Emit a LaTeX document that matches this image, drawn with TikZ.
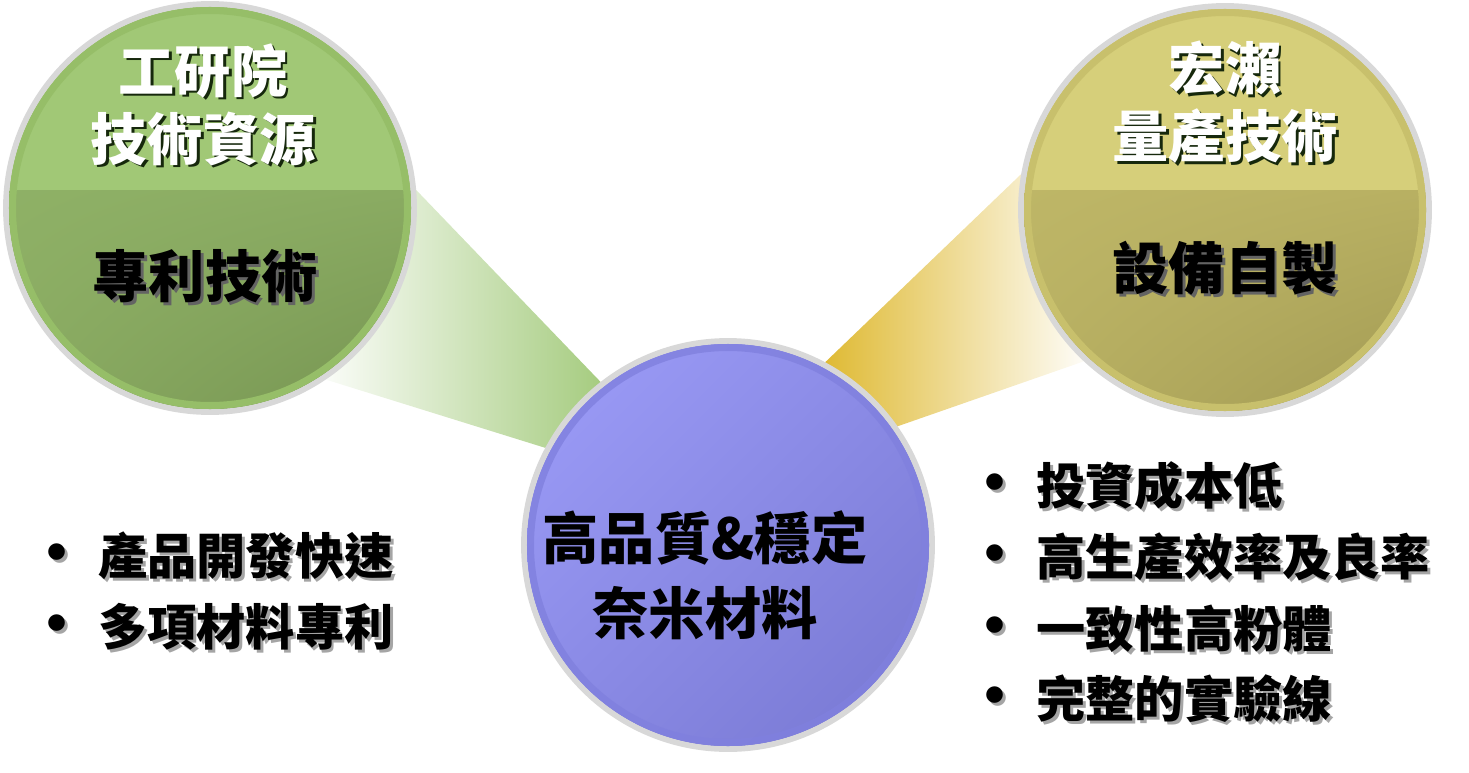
\documentclass[tikz,border=0pt]{standalone}
\usepackage{fontspec}
\newfontfamily\cjk{Noto Sans CJK TC}
\usetikzlibrary{backgrounds, shadings}
\usepackage{xcolor}
\definecolor{ringgray}{RGB}{216,216,216}
\definecolor{greentop}{RGB}{161,200,118}
\definecolor{greenlow}{RGB}{138,171,98}
\definecolor{greendark}{RGB}{116,146,80}
\definecolor{greenrim}{RGB}{150,190,104}
\definecolor{yellowtop}{RGB}{214,207,122}
\definecolor{yellowlow}{RGB}{184,176,98}
\definecolor{yellowdark}{RGB}{160,152,82}
\definecolor{yellowrim}{RGB}{200,192,108}
\definecolor{bluetop}{RGB}{158,158,250}
\definecolor{bluelow}{RGB}{118,118,208}
\definecolor{bluerim}{RGB}{128,128,222}
\definecolor{beamgreen}{RGB}{166,204,128}
\definecolor{beamgold}{RGB}{223,186,52}
\definecolor{shadowdark}{RGB}{22,40,12}
\definecolor{shadowgray}{RGB}{165,165,165}
\newcommand{\shtext}[2]{\makebox[0pt][l]{\hspace{1.6pt}\raisebox{-1.6pt}{\textcolor{#1}{#2}}}#2}
\tikzset{
  orb/.style={circle, minimum size=8.16cm, inner sep=0pt, draw=ringgray, line width=3.4pt},
  orbtitle/.style={font=\cjk\bfseries\fontsize{32}{38.7}\selectfont, align=center, text=white, inner sep=0pt},
  orbsub/.style={font=\cjk\bfseries\fontsize{32}{38.7}\selectfont, align=center, text=black, inner sep=0pt},
  bulletitem/.style={font=\cjk\bfseries\fontsize{28}{34}\selectfont, anchor=west, inner sep=0pt},
}

\begin{document}
\begin{tikzpicture}[x=0.02cm, y=0.02cm]
\useasboundingbox (0,0) rectangle (1469,772);

% ── Three orbs ────────────────────────────────────────────────────────────────
\node[orb, fill=greenlow]  (itri)   at (210,564)  {};
\node[orb, fill=yellowlow] (hongse) at (1225,562) {};
\node[orb, fill=bluelow]   (nano)   at (728,227)  {};

% green orb: light cap, shaded lower half, rim
\begin{scope}
  \clip (itri.center) circle[radius=201];
  \shade[upper left=greenlow!80!greentop, upper right=greenlow, lower left=greenlow,
         lower right=greendark] (0,350) rectangle (420,582);
  \fill[greentop] (0,582) rectangle (420,780);
\end{scope}
\draw[greenrim, line width=4pt] (itri.center) circle[radius=197.5];

% yellow orb
\begin{scope}
  \clip (hongse.center) circle[radius=201];
  \shade[upper left=yellowlow!80!yellowtop, upper right=yellowlow, lower left=yellowlow,
         lower right=yellowdark] (1015,350) rectangle (1435,582);
  \fill[yellowtop] (1015,582) rectangle (1435,780);
\end{scope}
\draw[yellowrim, line width=4pt] (hongse.center) circle[radius=197.5];

% blue orb
\begin{scope}
  \clip (nano.center) circle[radius=201];
  \shade[upper left=bluetop, upper right=bluetop!50!bluelow, lower left=bluetop!50!bluelow,
         lower right=bluelow] (520,20) rectangle (935,435);
\end{scope}
\draw[bluerim, line width=4pt, opacity=.8] (nano.center) circle[radius=197.5];

% ── Beams into the centre orb ─────────────────────────────────────────────────
\begin{scope}[on background layer]
  \shade[left color=beamgreen!6!white, right color=beamgreen]
    (itri.5.8) -- (nano.128.6) -- (nano.152) -- (itri.-56) -- cycle;
  \shade[left color=beamgold, right color=beamgold!4!white]
    (nano.62.8) -- (hongse.170.4) -- (hongse.227.9) -- (nano.35.3) -- cycle;
\end{scope}

% ── Orb texts ────────────────────────────────────────────────────────────────
\node[orbtitle] (itri-title) at (203,666)
  {\shtext{shadowdark}{工研院}\\\shtext{shadowdark}{技術資源}};
\node[orbsub] (itri-sub) at (205,494) {\shtext{shadowgray!60!black}{專利技術}};

\node[orbtitle] (hongse-title) at (1225,668)
  {\shtext{shadowdark}{宏瀨}\\\shtext{shadowdark}{量產技術}};
\node[orbsub] (hongse-sub) at (1225,502) {\shtext{shadowgray!60!black}{設備自製}};

\node[orbsub, font=\cjk\bfseries\fontsize{32}{42.7}\selectfont] (nano-title) at (705,197)
  {高品質\&穩定\\奈米材料};

% ── Bullet lists ─────────────────────────────────────────────────────────────
\foreach \y/\txt [count=\i] in {215/產品開發快速, 144/多項材料專利} {
  \node[bulletitem] (left\i) at (42,\y)
    {\shtext{shadowgray}{\makebox[31.9pt][l]{\hspace{-8.5pt}\scalebox{1.2}{•}}\txt}};
}
\foreach \y/\txt [count=\i] in {285/投資成本低, 214/高生產效率及良率,
                                142/一致性高粉體, 72/完整的實驗線} {
  \node[bulletitem] (right\i) at (980,\y)
    {\shtext{shadowgray}{\makebox[31.9pt][l]{\hspace{-8.5pt}\scalebox{1.2}{•}}\txt}};
}

\end{tikzpicture}
\end{document}
